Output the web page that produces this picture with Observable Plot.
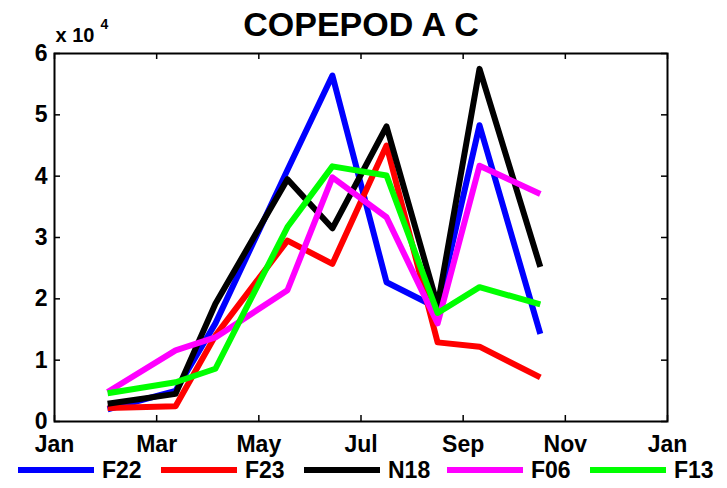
<!DOCTYPE html>
<html>
<head>
<meta charset="utf-8">
<script src="https://cdn.jsdelivr.net/npm/d3@7"></script>
<script src="https://cdn.jsdelivr.net/npm/@observablehq/plot@0.6"></script>
<style>
  html, body { margin: 0; padding: 0; background: #fff; }
  #wrap { position: relative; width: 727px; height: 488px; font-family: "Liberation Sans", Arial, sans-serif; font-weight: bold; }
  #legend { position: absolute; left: 18px; top: 456px; display: flex; }
  .item { display: flex; align-items: center; width: 143px; height: 28px; }
  .sw { width: 76px; height: 6px; margin-right: 8px; }
  .lab { font-size: 23px; color: #000; }
</style>
</head>
<body>
<div id="wrap"></div>
<script>
// ---- data ----
const months = [2.04, 3.37, 4.15, 5.56, 6.44, 7.50, 8.50, 9.32, 10.51];
const seriesNames = ["F22", "F23", "N18", "F06", "F13"];
const seriesColors = ["#0000ff", "#ff0000", "#000000", "#ff00ff", "#00ff00"];
const F22 = [2000, 5000, 16000, 41000, 56400, 22700, 18500, 48300, 14300];
const F23 = [2200, 2500, 14000, 29500, 25700, 45000, 12900, 12200, 7200];
const N18 = [2900, 4500, 19200, 39500, 31500, 48100, 18900, 57500, 25200];
const F06 = [4800, 11600, 13700, 21400, 39800, 33300, 16000, 41700, 37100];
const F13 = [4600, 6400, 8600, 31700, 41600, 40100, 17700, 21900, 19100];
const xTicks = [1, 3, 5, 7, 9, 11, 13];
const xTickLabels = ["Jan", "Mar", "May", "Jul", "Sep", "Nov", "Jan"];
const yTicks = [0, 10000, 20000, 30000, 40000, 50000, 60000];
const yTickLabels = ["0", "1", "2", "3", "4", "5", "6"];
const title = "COPEPOD A C";

const valuesBySeries = [F22, F23, N18, F06, F13];
const rows = [];
seriesNames.forEach((s, k) => {
  valuesBySeries[k].forEach((v, i) => rows.push({series: s, x: months[i], y: v}));
});

const W = 727, H = 457, mL = 54, mR = 60, mT = 53, mB = 36;
const fw = W - mL - mR, fh = H - mT - mB, tl = 6;

const chart = Plot.plot({
  width: W, height: H,
  marginLeft: mL, marginRight: mR, marginTop: mT, marginBottom: mB,
  style: {fontFamily: '"Liberation Sans", Arial, sans-serif', fontSize: "23px", fontWeight: "bold", color: "#000", background: "#fff", overflow: "visible"},
  x: {domain: [1, 13]},
  y: {domain: [0, 60000]},
  color: {domain: seriesNames, range: seriesColors},
  marks: [
    Plot.line(rows, {x: "x", y: "y", z: "series", stroke: "series", strokeWidth: 6, strokeLinejoin: "round", strokeLinecap: "butt"}),
    Plot.frame({stroke: "#000", strokeWidth: 2}),
    Plot.tickY(yTicks, {y: d => d, insetRight: fw - tl, stroke: "#000", strokeWidth: 1.5}),
    Plot.tickY(yTicks, {y: d => d, insetLeft: fw - tl, stroke: "#000", strokeWidth: 1.5}),
    Plot.tickX(xTicks, {x: d => d, insetTop: fh - tl, stroke: "#000", strokeWidth: 1.5}),
    Plot.tickX(xTicks, {x: d => d, insetBottom: fh - tl, stroke: "#000", strokeWidth: 1.5}),
    Plot.axisX(xTicks, {tickSize: 0, tickPadding: 14, label: null, tickFormat: d => xTickLabels[xTicks.indexOf(d)]}),
    Plot.axisY(yTicks, {tickSize: 0, tickPadding: 7, label: null, tickFormat: d => yTickLabels[yTicks.indexOf(d)]}),
    Plot.text([title], {frameAnchor: "top", dy: -28, fontSize: 34, fontWeight: "bold", lineAnchor: "middle"}),
    Plot.text(["x 10"], {frameAnchor: "top-left", textAnchor: "start", dx: 1, dy: -18, fontSize: 20, fontWeight: "bold", lineAnchor: "middle"}),
    Plot.text(["4"], {frameAnchor: "top-left", textAnchor: "start", dx: 46, dy: -29, fontSize: 14, fontWeight: "bold", lineAnchor: "middle"})
  ]
});

const wrap = document.getElementById("wrap");
wrap.appendChild(chart);

const legend = document.createElement("div");
legend.id = "legend";
seriesNames.forEach((s, k) => {
  const it = document.createElement("div");
  it.className = "item";
  const sw = document.createElement("span");
  sw.className = "sw";
  sw.style.background = seriesColors[k];
  const lab = document.createElement("span");
  lab.className = "lab";
  lab.textContent = s;
  it.appendChild(sw); it.appendChild(lab);
  legend.appendChild(it);
});
wrap.appendChild(legend);
</script>
</body>
</html>
